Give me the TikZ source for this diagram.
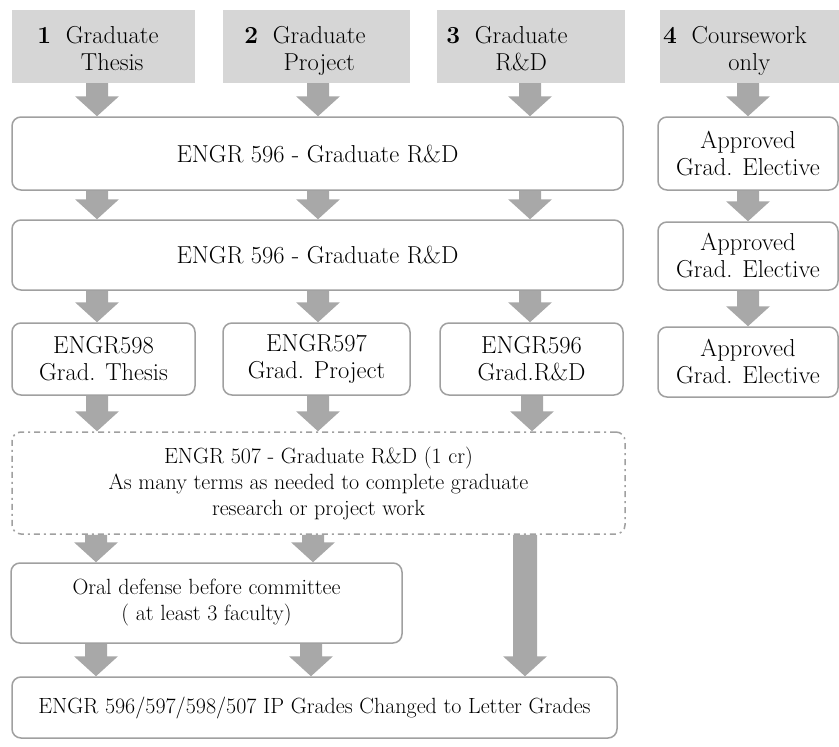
\documentclass[tikz,border=0pt]{standalone}
\usetikzlibrary{calc}
\definecolor{topfill}{HTML}{D6D6D6}
\definecolor{arrowfill}{HTML}{A8A8A8}
\definecolor{boxline}{HTML}{A0A0A0}
\tikzset{
  sz/.style 2 args={minimum width=#1pt, minimum height=#2pt},
  topbox/.style={fill=topfill, inner sep=0pt, align=center, font=\fontsize{24.5}{28}\selectfont},
  stagebox/.style={draw=boxline, line width=1.5pt, rounded corners=9pt, fill=white, inner sep=0pt, align=center, font=\fontsize{24.5}{27}\selectfont},
  dashbox/.style={stagebox, dash pattern=on 6pt off 4pt on 2pt off 4pt},
  smalltext/.style={font=\fontsize{22}{26}\selectfont}
}
\newcommand\numlabel[3]{\raisebox{0pt}[\height][0pt]{\textbf{#1}\hspace{0.6em}\begin{tabular}[t]{@{}c@{}}#2\\[-1pt]#3\end{tabular}}}
% block arrow: x position, source node, target node, shaft half width
\newcommand\barrow[4]{%
  \fill[arrowfill] let \p1=(#2.south), \p2=(#3.north) in
    (#1pt-#4pt,\y1) -- (#1pt+#4pt,\y1) -- (#1pt+#4pt,\y2+20pt) -- (#1pt+22pt,\y2+20pt)
    -- (#1pt,\y2) -- (#1pt-22pt,\y2+20pt) -- (#1pt-#4pt,\y2+20pt) -- cycle;}
\begin{document}
\begin{tikzpicture}[x=1pt,y=-1pt]
\useasboundingbox (0,0) rectangle (839,747);
% top boxes
\node[topbox, sz={183}{73}] (t1) at (103.5,46.5) {};
\node[topbox, sz={187}{73}] (t2) at (316.5,46.5) {};
\node[topbox, sz={188}{73}] (t3) at (531,46.5) {};
\node[topbox, sz={179}{73}] (t4) at (749.5,46.5) {};
\node[topbox, anchor=base, inner sep=0pt] (l1) at (98,43) {\numlabel{1}{Graduate}{Thesis}};
\node[topbox, anchor=base, inner sep=0pt] (l2) at (305,43) {\numlabel{2}{Graduate}{Project}};
\node[topbox, anchor=base, inner sep=0pt] (l3) at (507,43) {\numlabel{3}{Graduate}{R\&D}};
\node[topbox, anchor=base, inner sep=0pt] (l4) at (735,43) {\numlabel{4}{Coursework}{only}};
% row 1
\node[stagebox, sz={611}{73}] (r1) at (317.5,153.5) {ENGR 596 - Graduate R\&D};
\node[stagebox, sz={180}{73}] (e1) at (748,153.5) {Approved\\Grad. Elective};
% row 2
\node[stagebox, sz={611}{70}] (r2) at (317.5,255) {ENGR 596 - Graduate R\&D};
\node[stagebox, sz={180}{68}] (e2) at (748,256) {Approved\\Grad. Elective};
% row 3
\node[stagebox, sz={183}{72}] (b598) at (103.5,359) {ENGR598\\Grad. Thesis};
\node[stagebox, sz={187}{72}] (b597) at (316.5,359) {ENGR597\\Grad. Project};
\node[stagebox, sz={183}{72}] (b596) at (531.5,359) {ENGR596\\Grad.R\&D};
\node[stagebox, sz={180}{70}] (e3) at (748,362) {Approved\\Grad. Elective};
% row 4
\node[dashbox, smalltext, sz={613}{102}] (d) at (318.5,483) {ENGR 507 - Graduate R\&D (1 cr)\\As many terms as needed to complete graduate\\research or project work};
% row 5
\node[stagebox, smalltext, sz={391}{80}] (o) at (206.5,603) {Oral defense before committee\\( at least 3 faculty)};
% row 6
\node[stagebox, smalltext, sz={605}{61}] (f) at (314.5,707.5) {ENGR 596/597/598/507 IP Grades Changed to Letter Grades};
% arrows
\barrow{97}{t1}{r1}{11} \barrow{318}{t2}{r1}{11} \barrow{530}{t3}{r1}{11} \barrow{748}{t4}{e1}{11}
\barrow{97}{r1}{r2}{11} \barrow{318}{r1}{r2}{11} \barrow{530}{r1}{r2}{11} \barrow{748}{e1}{e2}{11}
\barrow{97}{r2}{b598}{11} \barrow{318}{r2}{b597}{11} \barrow{530}{r2}{b596}{11} \barrow{748}{e2}{e3}{11}
\barrow{97}{b598}{d}{11} \barrow{318}{b597}{d}{11} \barrow{532}{b596}{d}{11}
\barrow{96}{d}{o}{11} \barrow{313}{d}{o}{11}
\barrow{525}{d}{f}{12}
\barrow{96}{o}{f}{11} \barrow{311}{o}{f}{11}
\end{tikzpicture}
\end{document}
